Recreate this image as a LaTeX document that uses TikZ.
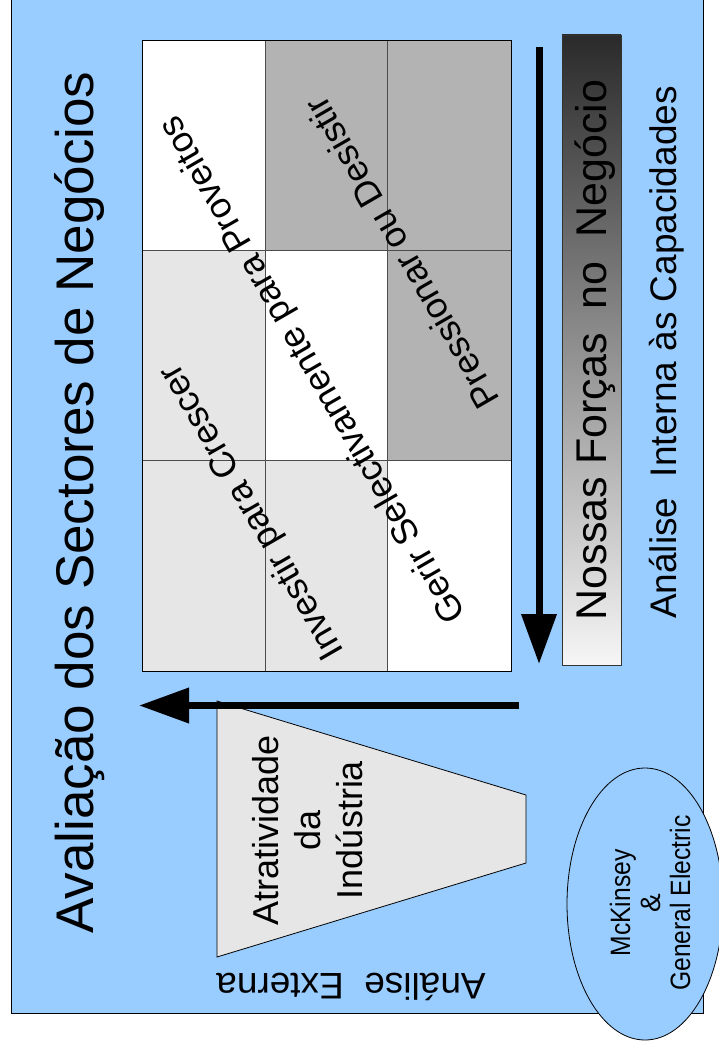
\documentclass[tikz,border=0pt]{standalone}
\usepackage{fontspec}
\usepackage{graphicx}
\setmainfont{Liberation Sans}
\usetikzlibrary{arrows.meta}
\definecolor{slideblue}{HTML}{99CCFF}
\definecolor{cellmid}{HTML}{B3B3B3}
\definecolor{celllight}{HTML}{E6E6E6}
\definecolor{bartop}{HTML}{2A2A2A}
\definecolor{barbottom}{HTML}{F6F6F6}
\newcommand{\fs}[1]{\fontsize{#1}{1.15\dimexpr#1pt\relax}\selectfont}
\begin{document}
\begin{tikzpicture}[x=1pt,y=-1pt,
  bigarrow/.style={line width=7pt,-{Triangle[length=50pt,width=34pt]}},
  gridline/.style={draw=black!70,line width=0.9pt},
  outline/.style={draw=black,line width=0.9pt},
  label/.style={inner sep=0pt,text=black}
]
\useasboundingbox (0,0) rectangle (719,1048);
\fill[white] (0,0) rectangle (719,1048);
% slide background
\draw[fill=slideblue,line width=1pt] (11.5,-10) rectangle (703.5,1013.7);

% matrix cells
\fill[white]     (142,40.5)   rectangle (265.5,250.5);
\fill[cellmid]   (265.5,40.5) rectangle (387.5,250.5);
\fill[cellmid]   (387.5,40.5) rectangle (511,250.5);
\fill[celllight] (142,250.5)  rectangle (265.5,460.5);
\fill[white]     (265.5,250.5) rectangle (387.5,460.5);
\fill[cellmid]   (387.5,250.5) rectangle (511,460.5);
\fill[celllight] (142,460.5)  rectangle (265.5,671);
\fill[celllight] (265.5,460.5) rectangle (387.5,671);
\fill[white]     (387.5,460.5) rectangle (511,671);
\draw[gridline] (265.5,40.5) -- (265.5,671);
\draw[gridline] (387.5,40.5) -- (387.5,671);
\draw[gridline] (142,250.5) -- (511,250.5);
\draw[gridline] (142,460.5) -- (511,460.5);
\draw[outline] (142,40.5) rectangle (511,671);

% diagonal strategy labels
\node[label,rotate=120,font=\fs{36}] (gerir) at (314,369) {Gerir Selectivamente para Proveitos};
\node[label,rotate=120,font=\fs{36}] (investir) at (253,511) {Investir para Crescer};
\node[label,rotate=120,font=\fs{36}] (pressionar) at (401,253) {Pressionar ou Desistir};

% title
\node[label,rotate=90,anchor=base,font=\fs{53}] (title) at (93,502.5) {Avaliação dos Sectores de Negócios};

% strengths bar
\shade[top color=bartop,bottom color=barbottom] (562,35) rectangle (621,665.3);
\draw[draw=black!80,line width=0.8pt] (562,35) rectangle (621,665.3);
\node[label,rotate=90,anchor=base,font=\fs{43}] (forcas) at (606,350) {Nossas Forças\ \ no\ \ Negócio};
\node[label,rotate=90,anchor=base,font=\fs{37}] (interna) at (676,352.5) {Análise\ \ Interna às Capacidades};

% industry attractiveness
\draw[outline,fill=celllight,line width=0.8pt] (217,701) -- (526,795) -- (526,863) -- (217,957) -- cycle;
\node[label,rotate=90,align=center,font=\fontsize{36}{42}\selectfont] (atrat) at (308,830) {Atratividade\\da\\Indústria};

% axis arrows
\coordinate (vstart) at (539,47);
\coordinate (vend) at (539,664);
\coordinate (hstart) at (519,705.5);
\coordinate (hend) at (139,705.5);
\draw[bigarrow] (vstart) -- (vend);
\draw[bigarrow] (hstart) -- (hend);

% external analysis caption
\node[label,rotate=180,anchor=base,font=\fs{37}] (externa) at (351,973) {Análise\ \ Externa};

% source ellipse
\draw[fill=slideblue,line width=0.8pt] (645,904) ellipse [x radius=78,y radius=136];
\node[label,rotate=90,align=center,font=\fontsize{28}{30}\selectfont] (mck) at (650,903)
  {\scalebox{0.88}[1]{McKinsey}\\\&\\\scalebox{0.88}[1]{General Electric}};
\end{tikzpicture}
\end{document}
